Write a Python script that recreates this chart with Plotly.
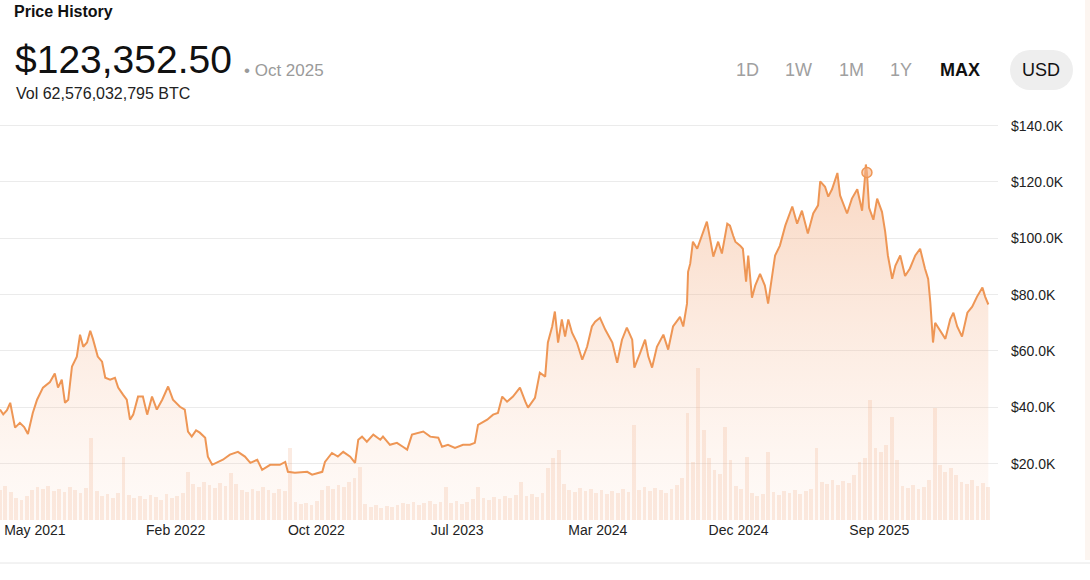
import pandas as pd
import plotly.graph_objects as go

# ---- data ----
START = pd.Timestamp("2021-03-12")

# price samples: day offset from START, price in $K
price_day = [
    0, 6, 13, 19, 28, 37, 45, 52, 61, 69, 80, 93, 102, 108, 115, 121, 127, 134, 143, 149,
    155, 162, 168, 173, 182, 190, 196, 205, 214, 220, 229, 236, 242, 248, 257, 266, 274, 283, 292, 302,
    313, 322, 335, 344, 350, 357, 365, 372, 382, 387, 395, 404, 415, 428, 443, 456, 466, 479, 488, 503,
    521, 531, 536, 549, 572, 581, 600, 605, 618, 629, 639, 652, 661, 667, 674, 683, 695, 708, 713, 726,
    739, 750, 758, 767, 778, 788, 801, 816, 823, 834, 847, 862, 875, 884, 890, 907, 918, 927, 935, 944,
    955, 968, 978, 983, 996, 1005, 1015, 1020, 1028, 1033, 1039, 1046, 1052, 1058, 1065, 1074, 1084, 1093, 1102, 1108,
    1117, 1127, 1140, 1149, 1158, 1167, 1177, 1181, 1192, 1201, 1207, 1214, 1223, 1235, 1244, 1253, 1266, 1272, 1279, 1281,
    1285, 1290, 1298, 1307, 1316, 1322, 1328, 1337, 1344, 1354, 1359, 1365, 1369, 1378, 1383, 1389, 1393, 1400, 1406, 1415,
    1424, 1430, 1437, 1443, 1452, 1462, 1475, 1484, 1493, 1504, 1514, 1523, 1527, 1536, 1542, 1549, 1559, 1564, 1577, 1586,
    1596, 1605, 1610, 1612, 1614, 1618, 1626, 1633, 1642, 1648, 1653, 1661, 1667, 1676, 1685, 1694, 1704, 1713, 1722, 1728,
    1732, 1737, 1741, 1750, 1760, 1769, 1775, 1782, 1791, 1801, 1810, 1819, 1829, 1834, 1840,
]
price_k = [
    39.2, 37.5, 39.0, 41.6, 32.8, 34.5, 33.0, 30.5, 38.0, 42.7, 47.0, 49.0, 52.0, 47.0, 49.8, 41.6, 42.7, 54.5, 58.0, 65.8,
    61.5, 63.0, 67.2, 64.3, 58.0, 56.2, 50.5, 49.8, 50.5, 47.0, 44.5, 42.7, 35.6, 37.4, 43.8, 43.8, 37.4, 43.8, 39.2, 42.7,
    47.4, 42.7, 40.2, 39.2, 31.4, 29.6, 31.8, 31.0, 29.2, 22.5, 19.6, 20.3, 21.4, 23.2, 24.2, 22.5, 20.3, 21.4, 17.8, 19.6,
    19.6, 20.6, 17.1, 16.8, 17.1, 16.1, 17.1, 20.6, 23.8, 22.5, 24.2, 22.5, 20.3, 28.5, 29.6, 27.8, 30.3, 28.5, 29.6, 26.7,
    27.4, 26.0, 25.0, 30.3, 31.0, 31.4, 29.6, 29.2, 26.0, 26.7, 25.6, 26.7, 26.7, 27.4, 33.8, 35.6, 37.4, 38.0, 43.8, 42.0,
    43.8, 47.0, 42.0, 39.9, 43.4, 52.3, 50.9, 63.0, 68.7, 74.0, 63.0, 71.2, 65.1, 71.2, 66.5, 63.0, 56.9, 61.5, 68.7, 70.4,
    71.8, 67.5, 63.0, 55.8, 64.0, 68.3, 64.0, 54.1, 59.4, 64.0, 58.0, 54.1, 61.5, 65.8, 60.5, 68.7, 72.1, 68.7, 76.8, 88.1,
    91.0, 98.8, 96.3, 100.9, 105.9, 99.9, 93.5, 98.8, 94.6, 105.2, 104.5, 100.9, 98.8, 97.4, 96.3, 84.6, 93.9, 78.9, 83.2, 87.4,
    83.2, 76.8, 85.6, 93.9, 97.4, 104.5, 111.3, 105.2, 109.8, 101.7, 108.8, 111.7, 120.2, 118.3, 114.8, 117.4, 123.2, 115.2, 108.8, 114.1,
    117.4, 109.8, 120.9, 126.2, 123.35, 110.8, 106.6, 114.1, 109.4, 102.3, 93.9, 85.6, 90.3, 93.9, 86.6, 89.3, 93.9, 96.3, 89.3, 85.6,
    77.3, 63.0, 70.0, 67.2, 64.3, 71.2, 73.6, 68.7, 65.1, 73.6, 75.7, 79.3, 82.5, 79.3, 76.5,
]

# daily volume sampled every 10 days from START, in $B
VOLUME_STEP_DAYS = 10
volume_b = [
    15, 17, 14, 11, 10, 12, 15, 16.5, 15.5, 17, 14.5, 15.5, 14, 16.5, 15, 13.5, 16, 41, 14.5, 12,
    13, 11, 13.5, 31.5, 12.5, 11, 12, 10.5, 12.5, 11.5, 10, 13, 11, 12, 13.5, 24, 18, 16.5, 19, 17.5,
    16, 18.5, 17, 23.5, 18, 15, 14, 15.5, 14.5, 16.5, 15, 13.5, 15.5, 14.5, 36, 9, 8, 8.5, 7.5, 9.5,
    15, 17, 15.5, 17.5, 16.5, 19, 21, 26.5, 8, 6.5, 7.5, 6, 7, 6.5, 7.5, 8.5, 8, 9, 7.5, 8.5,
    9.5, 8, 9, 16.5, 8.5, 9.5, 8, 9, 10.5, 16.5, 11, 10, 11.5, 10.5, 12, 11, 12.5, 19, 12, 13,
    11.5, 13.5, 26, 31, 35, 18, 15, 14, 16, 14.5, 15.5, 13.5, 15, 13, 14.5, 13.5, 15.5, 14, 47.5, 15,
    16.5, 14.5, 16, 15, 13.5, 15.5, 17.5, 21, 53.5, 29, 76, 45, 31, 25, 23, 46.5, 30, 17, 15.5, 31.5,
    13.5, 12, 13, 34, 14, 12.5, 14.5, 13.5, 15, 13, 14.5, 15.5, 36, 19, 18, 20, 17.5, 19.5, 18.5, 22.5,
    29, 31, 60, 36, 34, 37.5, 51.5, 30, 17, 16, 17.5, 15.5, 16.5, 20, 56, 27.5, 24, 26, 22.5, 19,
    18, 20, 17, 18.5, 16.5,
]

HIGHLIGHT_DAY = 1614
HIGHLIGHT_PRICE = 123352.50

PRICE_TICKS = [20000, 40000, 60000, 80000, 100000, 120000, 140000]
TICK0 = "2021-05-16"
TICK_STEP_DAYS = 262
RANGE_DAYS = 1858

PERIODS = ["1D", "1W", "1M", "1Y", "MAX"]

# ---- layout geometry (pixels) ----
W, H = 1090, 580
ML, MR, MT, MB = 0, 92, 123, 60
PW, PH = W - ML - MR, H - MT - MB

LINE = "#EE9655"
FONT = "Liberation Sans, Arial, sans-serif"


def px_x(x):
    return (x - ML) / PW


def px_y(y):
    return (H - MB - y) / PH


price_dates = [START + pd.Timedelta(days=d) for d in price_day]
price_usd = [p * 1000 for p in price_k]
vol_dates = [START + pd.Timedelta(days=i * VOLUME_STEP_DAYS) for i in range(len(volume_b))]

fig = go.Figure()

fig.add_trace(go.Bar(
    x=vol_dates, y=volume_b, yaxis="y",
    width=7 * 86400000,
    marker=dict(color="rgba(238,165,125,0.22)", line=dict(width=0)),
    hoverinfo="skip",
))

fig.add_trace(go.Scatter(
    x=price_dates, y=price_usd, yaxis="y2",
    mode="lines",
    line=dict(color=LINE, width=2),
    fill="tozeroy",
    fillgradient=dict(
        type="vertical",
        colorscale=[[0, "rgba(250,200,170,0.08)"], [1, "rgba(240,160,110,0.42)"]],
        start=0, stop=max(price_usd),
    ),
    hovertemplate="%{x|%b %Y}<br>$%{y:,.2f}<extra></extra>",
))

fig.add_trace(go.Scatter(
    x=[START + pd.Timedelta(days=HIGHLIGHT_DAY)], y=[HIGHLIGHT_PRICE], yaxis="y2",
    mode="markers",
    marker=dict(size=10, color="rgba(245,180,140,0.6)", line=dict(color=LINE, width=1.5)),
    hoverinfo="skip",
))

ann = [
    dict(text="<b>Price History</b>", x=px_x(12), y=px_y(11), size=16, color="#111"),
    dict(text="$123,352.50", x=px_x(13), y=px_y(60), size=39, color="#111"),
    dict(text="• Oct 2025", x=px_x(242), y=px_y(71), size=17, color="#9A9A9A"),
    dict(text="Vol 62,576,032,795 BTC", x=px_x(14), y=px_y(93), size=16, color="#222"),
]
for i, label in enumerate(PERIODS):
    cx = [747, 798, 851, 901, 960][i]
    bold = label == "MAX"
    ann.append(dict(text=f"<b>{label}</b>" if bold else label, x=px_x(cx), y=px_y(70),
                    size=18, color="#111" if bold else "#A0A0A0", anchor="center"))
ann.append(dict(text="USD", x=px_x(1041), y=px_y(70), size=18, color="#111", anchor="center"))

for a in ann:
    fig.add_annotation(
        text=a["text"], x=a["x"], y=a["y"], xref="paper", yref="paper",
        xanchor=a.get("anchor", "left"), yanchor="middle", showarrow=False,
        font=dict(family=FONT, size=a["size"], color=a["color"]),
    )

# USD pill
pill = "#EEEEEE"
shapes = [
    dict(type="circle", x0=px_x(1010), x1=px_x(1050), y0=px_y(90), y1=px_y(50)),
    dict(type="circle", x0=px_x(1033), x1=px_x(1073), y0=px_y(90), y1=px_y(50)),
    dict(type="rect", x0=px_x(1029), x1=px_x(1054), y0=px_y(90), y1=px_y(50)),
]
for s in shapes:
    fig.add_shape(xref="paper", yref="paper", fillcolor=pill, line=dict(width=0), layer="below", **s)
# card bottom border and faint right edge strip
fig.add_shape(type="line", xref="paper", yref="paper", x0=px_x(0), x1=px_x(W), y0=px_y(563), y1=px_y(563),
              line=dict(color="#E6E6E6", width=1))
fig.add_shape(type="rect", xref="paper", yref="paper", x0=px_x(1085), x1=px_x(W), y0=px_y(560), y1=px_y(0),
              fillcolor="#FCF5F0", line=dict(width=0), layer="below")

fig.update_layout(
    width=W, height=H,
    margin=dict(l=ML, r=MR, t=MT, b=MB),
    paper_bgcolor="white", plot_bgcolor="white",
    showlegend=False,
    bargap=0,
    xaxis=dict(
        type="date",
        range=[START, START + pd.Timedelta(days=RANGE_DAYS)],
        tick0=TICK0, dtick=TICK_STEP_DAYS * 86400000, tickformat="%b %Y",
        showgrid=False, zeroline=False, showline=False, ticks="",
        tickfont=dict(family=FONT, size=14, color="#222"),
    ),
    yaxis=dict(range=[0, PH * 0.5], visible=False, fixedrange=True),
    yaxis2=dict(
        overlaying="y", side="right", anchor="x",
        range=[0, PH / 2.817 * 1000],
        tickvals=PRICE_TICKS, ticktext=[f"${v / 1000:.1f}K" for v in PRICE_TICKS],
        showgrid=True, gridcolor="#EBEBEB", gridwidth=1, zeroline=False, showline=False, ticks="",
        ticklabelstandoff=12,
        tickfont=dict(family=FONT, size=14, color="#222"),
    ),
)

fig.write_html("out.html", config={"displayModeBar": False},
               post_script="document.body.style.margin='0px';")
